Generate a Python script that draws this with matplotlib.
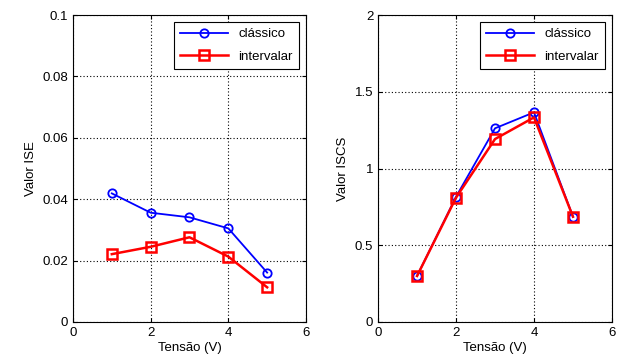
import numpy as np
from matplotlib import pyplot as plt
from matplotlib.ticker import FormatStrFormatter

plt.rcParams['font.family'] = ['Liberation Sans', 'DejaVu Sans']
plt.rcParams['font.size'] = 9

tensao = [1, 2, 3, 4, 5]
ise_classico = [0.0419, 0.0356, 0.0341, 0.0305, 0.0161]
ise_intervalar = [0.0221, 0.0245, 0.0276, 0.0213, 0.0113]
iscs_classico = [0.30, 0.816, 1.262, 1.366, 0.686]
iscs_intervalar = [0.30, 0.81, 1.192, 1.333, 0.686]

fig = plt.figure(figsize=(6.27, 3.62), dpi=100)
ax1 = fig.add_axes([0.1164, 0.1105, 0.3716, 0.848])
ax2 = fig.add_axes([0.603, 0.1105, 0.373, 0.848])

def draw(ax, yc, yi, ylim, yticks, ylabel):
    ax.plot(tensao, yc, '-o', color='blue', lw=1.3, ms=6, mfc='none', mew=1.3, label='clássico')
    ax.plot(tensao, yi, '-s', color='red', lw=1.8, ms=7, mfc='none', mew=1.8, label='intervalar')
    ax.set_xlim(0, 6)
    ax.set_ylim(*ylim)
    ax.set_xticks([0, 2, 4, 6])
    ax.set_yticks(yticks)
    ax.yaxis.set_major_formatter(FormatStrFormatter('%g'))
    ax.grid(True, color='black', linestyle=(0, (1, 2)), linewidth=0.8)
    ax.tick_params(direction='in', length=3, top=True, right=True, labelsize=9.5)
    ax.set_xlabel('Tensão (V)', labelpad=2, fontsize=9.5)
    ax.set_ylabel(ylabel, labelpad=4, fontsize=9.5)
    leg = ax.legend(loc='upper right', fancybox=False, framealpha=1, fontsize=9.5,
                    edgecolor='black', handlelength=3.6, borderaxespad=0.5,
                    labelspacing=0.75, borderpad=0.5)
    leg.get_frame().set_linewidth(0.8)

draw(ax1, ise_classico, ise_intervalar, (0, 0.1), [0, 0.02, 0.04, 0.06, 0.08, 0.1], 'Valor ISE')
draw(ax2, iscs_classico, iscs_intervalar, (0, 2), [0, 0.5, 1, 1.5, 2], 'Valor ISCS')

fig.savefig('out.png', dpi=100)
